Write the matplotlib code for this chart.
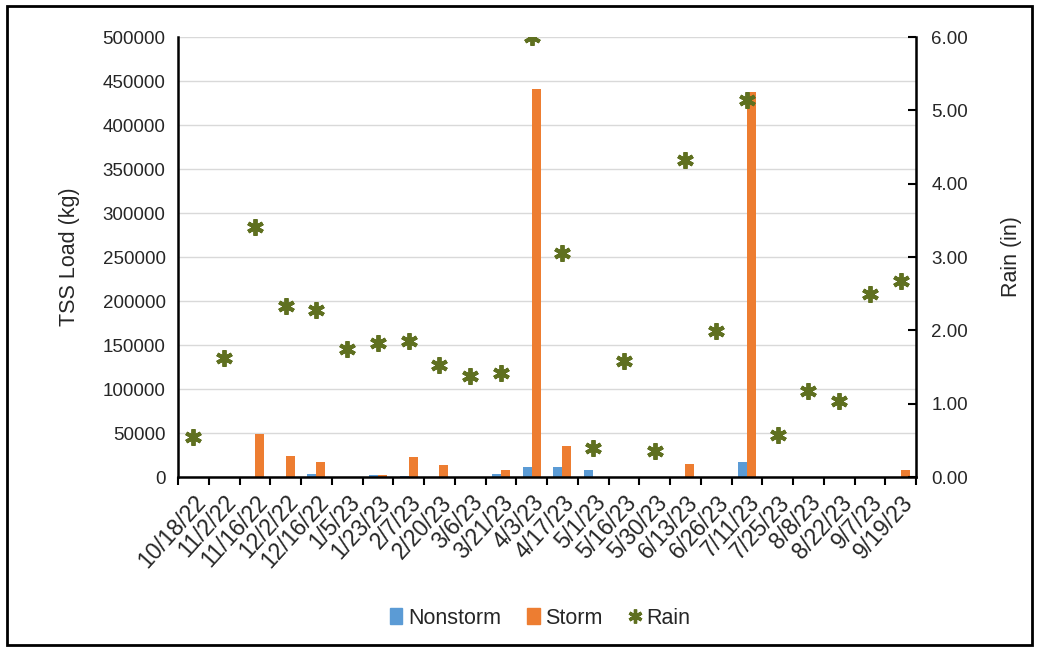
import matplotlib
matplotlib.use("Agg")
import matplotlib.pyplot as plt
from matplotlib.patches import Rectangle
from matplotlib.lines import Line2D
import numpy as np

plt.rcParams['font.family'] = ['Liberation Sans', 'DejaVu Sans']

dates = ["10/18/22", "11/2/22", "11/16/22", "12/2/22", "12/16/22", "1/5/23", "1/23/23",
         "2/7/23", "2/20/23", "3/6/23", "3/21/23", "4/3/23", "4/17/23", "5/1/23",
         "5/16/23", "5/30/23", "6/13/23", "6/26/23", "7/11/23", "7/25/23", "8/8/23",
         "8/22/23", "9/7/23", "9/19/23"]
nonstorm = [0, 0, 0, 0, 3000, 0, 2000, 1500, 0, 0, 3000, 11500, 11500, 8000,
            0, 0, 0, 0, 17000, 0, 0, 0, 0, 0]
storm = [0, 0, 49000, 24000, 17000, 0, 2000, 23000, 14000, 0, 8500, 441000, 35000, 0,
         0, 0, 15000, 0, 437000, 0, 0, 0, 0, 8000]
rain = [0.55, 1.62, 3.41, 2.33, 2.28, 1.75, 1.83, 1.85, 1.53, 1.38, 1.42, 6.00, 3.05,
        0.40, 1.58, 0.35, 4.32, 1.99, 5.14, 0.57, 1.17, 1.04, 2.50, 2.67]

c_non = '#5B9BD5'
c_storm = '#ED7D31'
c_rain = '#5F7020'
txt = '#262626'

fig = plt.figure(figsize=(10.46, 6.5), dpi=100)
ax = fig.add_axes([178/1046, 1-477/650, (916-178)/1046, 440/650])
ax2 = ax.twinx()

x = np.arange(len(dates))
w = 0.29
ax.bar(x - w/2, nonstorm, width=w, color=c_non, zorder=2, label='Nonstorm')
ax.bar(x + w/2, storm, width=w, color=c_storm, zorder=2, label='Storm')

ax.set_xlim(-0.5, len(dates) - 0.5)
ax.set_ylim(0, 500000)
ax.set_yticks(np.arange(0, 500001, 50000))
ax.yaxis.grid(True, color='#D9D9D9', linewidth=1)
ax.set_axisbelow(True)
ax.tick_params(axis='y', length=0, labelsize=13.5, pad=9, colors=txt)
ax.set_xticks(x)
ax.set_xticklabels(dates, rotation=48, ha='right', rotation_mode='anchor',
                   fontsize=16.5, color=txt)
ax.tick_params(axis='x', which='major', length=0, pad=10)
ax.set_xticks(np.arange(-0.5, len(dates), 1), minor=True)
ax.tick_params(axis='x', which='minor', length=6, width=1.5, direction='out', color='black')
ax.set_ylabel('TSS Load (kg)', fontsize=15.5, color=txt, labelpad=16)

ax.spines['top'].set_visible(False)
ax2.spines['top'].set_visible(False)
for s in ['left', 'bottom']:
    ax.spines[s].set_linewidth(1.8)
ax2.spines['right'].set_linewidth(1.8)
ax2.spines['left'].set_visible(False)
ax2.spines['bottom'].set_visible(False)

ax2.plot(x, rain, linestyle='none', marker=(6, 2, 0), markersize=12,
         markeredgewidth=2.8, color=c_rain, zorder=3, label='Rain')
ax2.set_ylim(0, 6)
ax2.set_yticks(np.arange(0, 6.01, 1))
ax2.set_yticklabels([f"{v:.2f}" for v in np.arange(0, 6.01, 1)])
ax2.tick_params(axis='y', direction='in', length=6, width=1.5, labelsize=13.5,
                pad=11, colors=txt)
ax2.tick_params(axis='y', color='black')
ax2.set_ylabel('Rain (in)', fontsize=15.5, color=txt, labelpad=24)

handles = [Rectangle((0, 0), 1, 1, color=c_non), Rectangle((0, 0), 1, 1, color=c_storm),
           Line2D([], [], linestyle='none', marker=(6, 2, 0), markersize=10,
                  markeredgewidth=2.4, color=c_rain)]
fig.legend(handles, ['Nonstorm', 'Storm', 'Rain'], loc='center',
           bbox_to_anchor=(540/1046, 1-618/650), ncol=3, frameon=False,
           fontsize=15.5, handlelength=0.6, handleheight=0.7, handletextpad=0.25,
           columnspacing=1.2, labelcolor=txt)

fig.patches.append(Rectangle((7/1046, 5/650), (1032-7)/1046, (644-5)/650,
                             transform=fig.transFigure, fill=False,
                             edgecolor='black', linewidth=2))

fig.savefig('out.png', dpi=100)
